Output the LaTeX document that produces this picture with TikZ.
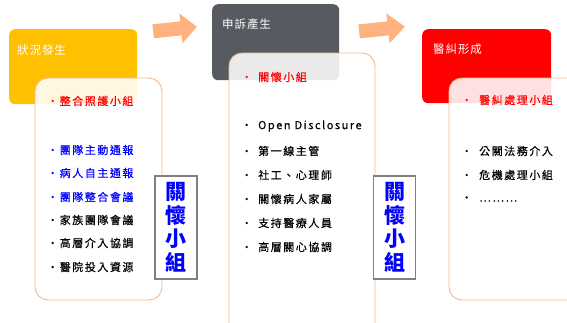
\documentclass[tikz,border=0pt]{standalone}
\usepackage{fontspec}
\setmainfont{Noto Sans CJK TC}
\definecolor{cOrange}{HTML}{FFC000}
\definecolor{cGray}{HTML}{575A61}
\definecolor{cRed}{HTML}{FF0000}
\definecolor{cLine}{HTML}{F8B88B}
\definecolor{cArrow}{HTML}{FFB27F}
\definecolor{cBlue}{HTML}{0000FF}
\definecolor{cVline}{HTML}{7F7F7F}
\begin{document}
\begin{tikzpicture}[x=1pt,y=-1pt,
  colbox/.style={rounded corners=6pt, draw=none, anchor=north west, inner sep=0},
  lbl/.style={anchor=west, inner sep=0, text=white, font=\fontsize{11.5}{13}\selectfont\addfontfeature{LetterSpace=8}},
  wbox/.style={rounded corners=13pt, draw=cLine, line width=0.9pt, fill=white, fill opacity=0.88},
  item/.style={anchor=west, inner sep=0, font=\fontsize{11}{13}\selectfont\addfontfeature{LetterSpace=14,FakeBold=0.4}},
  vbox/.style={draw=cVline, line width=1.6pt, fill=white, inner sep=0, text=cBlue, align=center,
    font=\fontsize{21}{23.5}\selectfont\bfseries},
  blockarrow/.style={fill=cArrow, draw=none}
]
\useasboundingbox (0,0) rectangle (567,322);
\clip (0,0) rectangle (567,322);

% coloured boxes
\node[colbox, fill=cOrange, minimum width=128pt, minimum height=75pt] (c1) at (9,29) {};
\node[colbox, fill=cGray, minimum width=127pt, minimum height=76pt] (c2) at (212,4) {};
\node[colbox, fill=cRed, minimum width=129pt, minimum height=74pt] (c3) at (422,29) {};
\node[lbl] (c1t) at (17,50) {狀況發生};
\node[lbl] (c2t) at (222,24) {申訴產生};
\node[lbl] (c3t) at (433,49) {醫糾形成};

% block arrows
\fill[blockarrow, rotate around={6:(175,29)}]
  (153,22) -- (181,22) -- (181,14) -- (197,29) -- (181,44) -- (181,36) -- (153,36) -- cycle;
\fill[blockarrow, rotate around={6:(382,29)}]
  (359,22) -- (388,22) -- (388,14) -- (405,29) -- (388,44) -- (388,36) -- (359,36) -- cycle;

% white boxes
\draw[wbox] (35,78) rectangle (162,300);
\draw[wbox] (229,53) rectangle (375,340);
\draw[wbox] (449,78) rectangle (600,300);

% box 1 items
\node[item, text=cRed] (a1) at (47,101) {•整合照護小組};
\node[item, text=cBlue] (a2) at (47,150) {•團隊主動通報};
\node[item, text=cBlue] (a3) at (47,173) {•病人自主通報};
\node[item, text=cBlue] (a4) at (47,197) {•團隊整合會議};
\node[item] (a5) at (47,220) {•家族團隊會議};
\node[item] (a6) at (47,243) {•高層介入協調};
\node[item] (a7) at (47,267) {•醫院投入資源};

% box 2 items
\node[item, text=cRed] (b1) at (241,77) {•\hspace{6pt}關懷小組};
\node[item] (b2) at (241,126) {•\hspace{6pt}Open Disclosure};
\node[item] (b3) at (241,151) {•\hspace{6pt}第一線主管};
\node[item] (b4) at (241,175) {•\hspace{6pt}社工、心理師};
\node[item] (b5) at (241,199) {•\hspace{6pt}關懷病人家屬};
\node[item] (b6) at (241,223) {•\hspace{6pt}支持醫療人員};
\node[item] (b7) at (241,247) {•\hspace{6pt}高層關心協調};

% box 3 items
\node[item, text=cRed] (d1) at (461,100) {•\hspace{7pt}醫糾處理小組};
\node[item] (d2) at (461,151) {•\hspace{7pt}公關法務介入};
\node[item] (d3) at (461,175) {•\hspace{7pt}危機處理小組};
\node[item] (d4) at (461,199) {•\hspace{7pt}………};

% vertical label boxes
\node[vbox, minimum width=42pt, minimum height=103pt] (v1) at (176,227.5) {關\\懷\\小\\組};
\node[vbox, minimum width=42pt, minimum height=103pt] (v2) at (394.5,227.5) {關\\懷\\小\\組};
\end{tikzpicture}
\end{document}
